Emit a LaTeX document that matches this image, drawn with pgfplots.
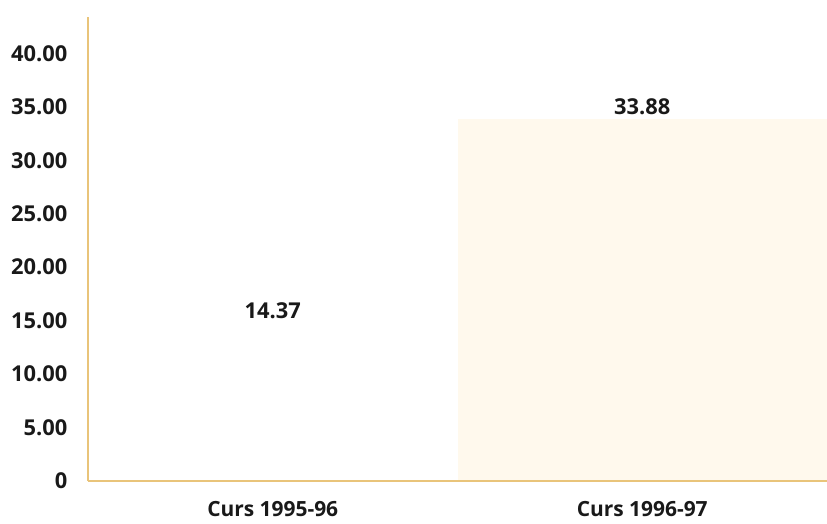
\documentclass[border=0pt]{standalone}
\usepackage{pgfplots}
\pgfplotsset{compat=1.18}
\usepackage{fontspec}
\setmainfont{Open Sans}
\definecolor{axcol}{RGB}{233,196,122}
\definecolor{barcream}{RGB}{255,249,237}
\begin{document}
\begin{tikzpicture}
\path[use as bounding box] (-66pt,-32.25pt) rectangle (554.25pt,360.75pt);
\begin{axis}[
  at={(0,0)}, anchor=south west,
  scale only axis, width=554.25pt, height=348pt,
  xmin=-0.5, xmax=1.5, ymin=0, ymax=43.4,
  axis lines*=left,
  axis line style={axcol, line width=1.8pt},
  axis on top,
  xtick={0,1}, xticklabels={Curs 1995-96, Curs 1996-97},
  ytick={0,5,...,40},
  yticklabels={0,5.00,10.00,15.00,20.00,25.00,30.00,35.00,40.00},
  major tick length=0pt,
  yticklabel style={xshift=-12pt, font=\fontsize{16.4}{19}\selectfont\bfseries, text=black!90},
  xticklabel style={yshift=-12pt, font=\fontsize{15.7}{19}\selectfont\bfseries, text=black!90},
]
\addplot[ybar, bar width=1, bar shift=0pt, fill=white, draw=none,
  nodes near coords={\pgfmathprintnumber[assume math mode=true,fixed,fixed zerofill,precision=2]{\pgfplotspointmeta}},
  nodes near coords style={anchor=center, yshift=12.75pt, font=\fontsize{16.4}{19}\selectfont\bfseries, text=black!90}]
  coordinates {(0,14.37)};
\addplot[ybar, bar width=1, bar shift=0pt, fill=barcream, draw=none,
  nodes near coords={\pgfmathprintnumber[assume math mode=true,fixed,fixed zerofill,precision=2]{\pgfplotspointmeta}},
  nodes near coords style={anchor=center, yshift=9pt, font=\fontsize{16.4}{19}\selectfont\bfseries, text=black!90}]
  coordinates {(1,33.88)};
\end{axis}
\end{tikzpicture}
\end{document}
